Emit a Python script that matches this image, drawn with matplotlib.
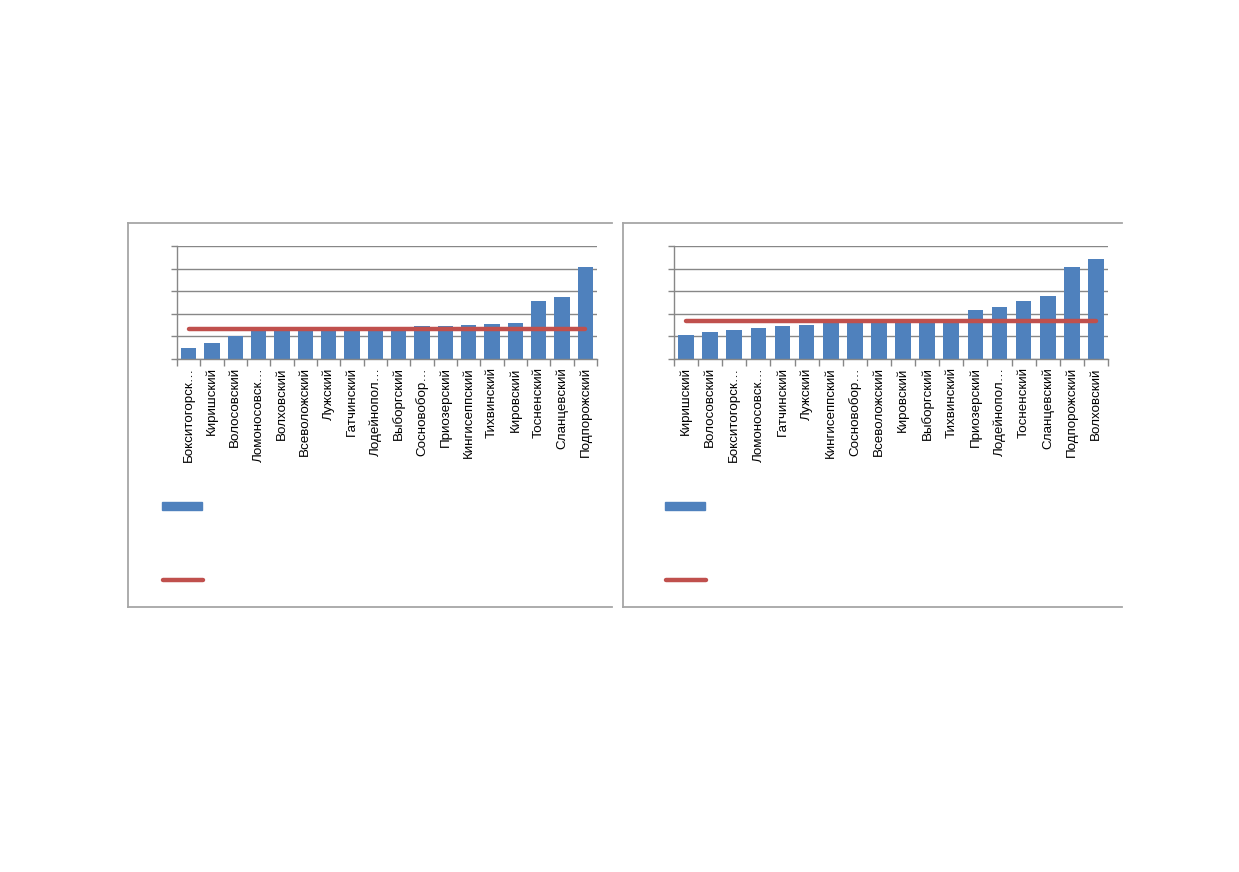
import numpy as np
import matplotlib.pyplot as plt
from matplotlib.lines import Line2D
from matplotlib.patches import Rectangle

plt.rcParams['font.family'] = ['Liberation Sans', 'DejaVu Sans']

# left chart: districts sorted by value
left_names = ["Бокситогорск…", "Киришский", "Волосовский", "Ломоносовск…",
              "Волховский", "Всеволожский", "Лужский", "Гатчинский",
              "Лодейнопол…", "Выборгский", "Сосновобор…", "Приозерский",
              "Кингисеппский", "Тихвинский", "Кировский", "Тосненский",
              "Сланцевский", "Подпорожский"]
left_values = [0.50, 0.72, 1.03, 1.24, 1.30, 1.32, 1.33, 1.34, 1.36, 1.42,
               1.47, 1.48, 1.50, 1.55, 1.60, 2.58, 2.74, 4.07]
left_mean = 1.32

# right chart
right_names = ["Киришский", "Волосовский", "Бокситогорск…", "Ломоносовск…",
               "Гатчинский", "Лужский", "Кингисеппский", "Сосновобор…",
               "Всеволожский", "Кировский", "Выборгский", "Тихвинский",
               "Приозерский", "Лодейнопол…", "Тосненский", "Сланцевский",
               "Подпорожский", "Волховский"]
right_values = [1.07, 1.19, 1.27, 1.39, 1.47, 1.50, 1.60, 1.64, 1.66, 1.68,
                1.70, 1.72, 2.16, 2.32, 2.58, 2.81, 4.07, 4.44]
right_mean = 1.69

BLUE = "#4F81BD"
RED = "#C0504D"
GRID = "#878787"
FRAME = "#A6A6A6"

W, H = 1239, 872
fig = plt.figure(figsize=(W / 100, H / 100), dpi=100)


def px(x0, y0, x1, y1):
    # pixel box -> figure fraction [left, bottom, width, height]
    return [x0 / W, 1 - y1 / H, (x1 - x0) / W, (y1 - y0) / H]


def draw_chart(rect, names, values, mean):
    ax = fig.add_axes(rect)
    x = np.arange(len(names))
    ax.bar(x, values, width=0.65, color=BLUE, zorder=2)
    ax.plot(x, [mean] * len(x), color=RED, lw=3.2, solid_capstyle='round', zorder=3)
    ax.set_xlim(-0.5, len(names) - 0.5)
    ax.set_ylim(0, 5)
    ax.set_yticks(np.arange(0, 6, 1))
    ax.set_yticklabels([])
    ax.yaxis.grid(True, color=GRID, lw=1.0, zorder=0)
    ax.set_xticks(x)
    ax.set_xticklabels(names, rotation=90, fontsize=9.6, va='top', ha='center')
    ax.set_xticks(np.arange(-0.5, len(names), 1), minor=True)
    ax.tick_params(axis='x', which='major', length=0, pad=6)
    ax.tick_params(axis='x', which='minor', length=5, color=GRID, width=1)
    ax.tick_params(axis='y', length=4, color=GRID, width=1)
    for s in ['top', 'right']:
        ax.spines[s].set_visible(False)
    for s in ['left', 'bottom']:
        ax.spines[s].set_color(GRID)
        ax.spines[s].set_linewidth(1.0)
    ax.set_facecolor('none')
    return ax


def draw_frame(x0, x1, y0, y1):
    kw = dict(color=FRAME, lw=1.3, transform=fig.transFigure)
    fig.add_artist(Line2D([x0 / W, x0 / W], [1 - y0 / H, 1 - y1 / H], **kw))
    fig.add_artist(Line2D([x0 / W, x1 / W], [1 - y0 / H, 1 - y0 / H], **kw))
    fig.add_artist(Line2D([x0 / W, x1 / W], [1 - y1 / H, 1 - y1 / H], **kw))


def draw_legend(x0):
    fig.add_artist(Rectangle((x0 / W, 1 - 510 / H), 40 / W, 8 / H,
                             color=BLUE, transform=fig.transFigure))
    fig.add_artist(Line2D([(x0 + 0.5) / W, (x0 + 41) / W], [1 - 580 / H] * 2,
                          color=RED, lw=3.2, solid_capstyle='round',
                          transform=fig.transFigure))


draw_frame(128, 612, 223, 607)
draw_frame(623, 1122, 223, 607)

draw_chart(px(177, 246.5, 597, 359), left_names, left_values, left_mean)
draw_chart(px(674, 246.5, 1108, 359), right_names, right_values, right_mean)

draw_legend(162)
draw_legend(665)

fig.savefig("out.png", dpi=100)
